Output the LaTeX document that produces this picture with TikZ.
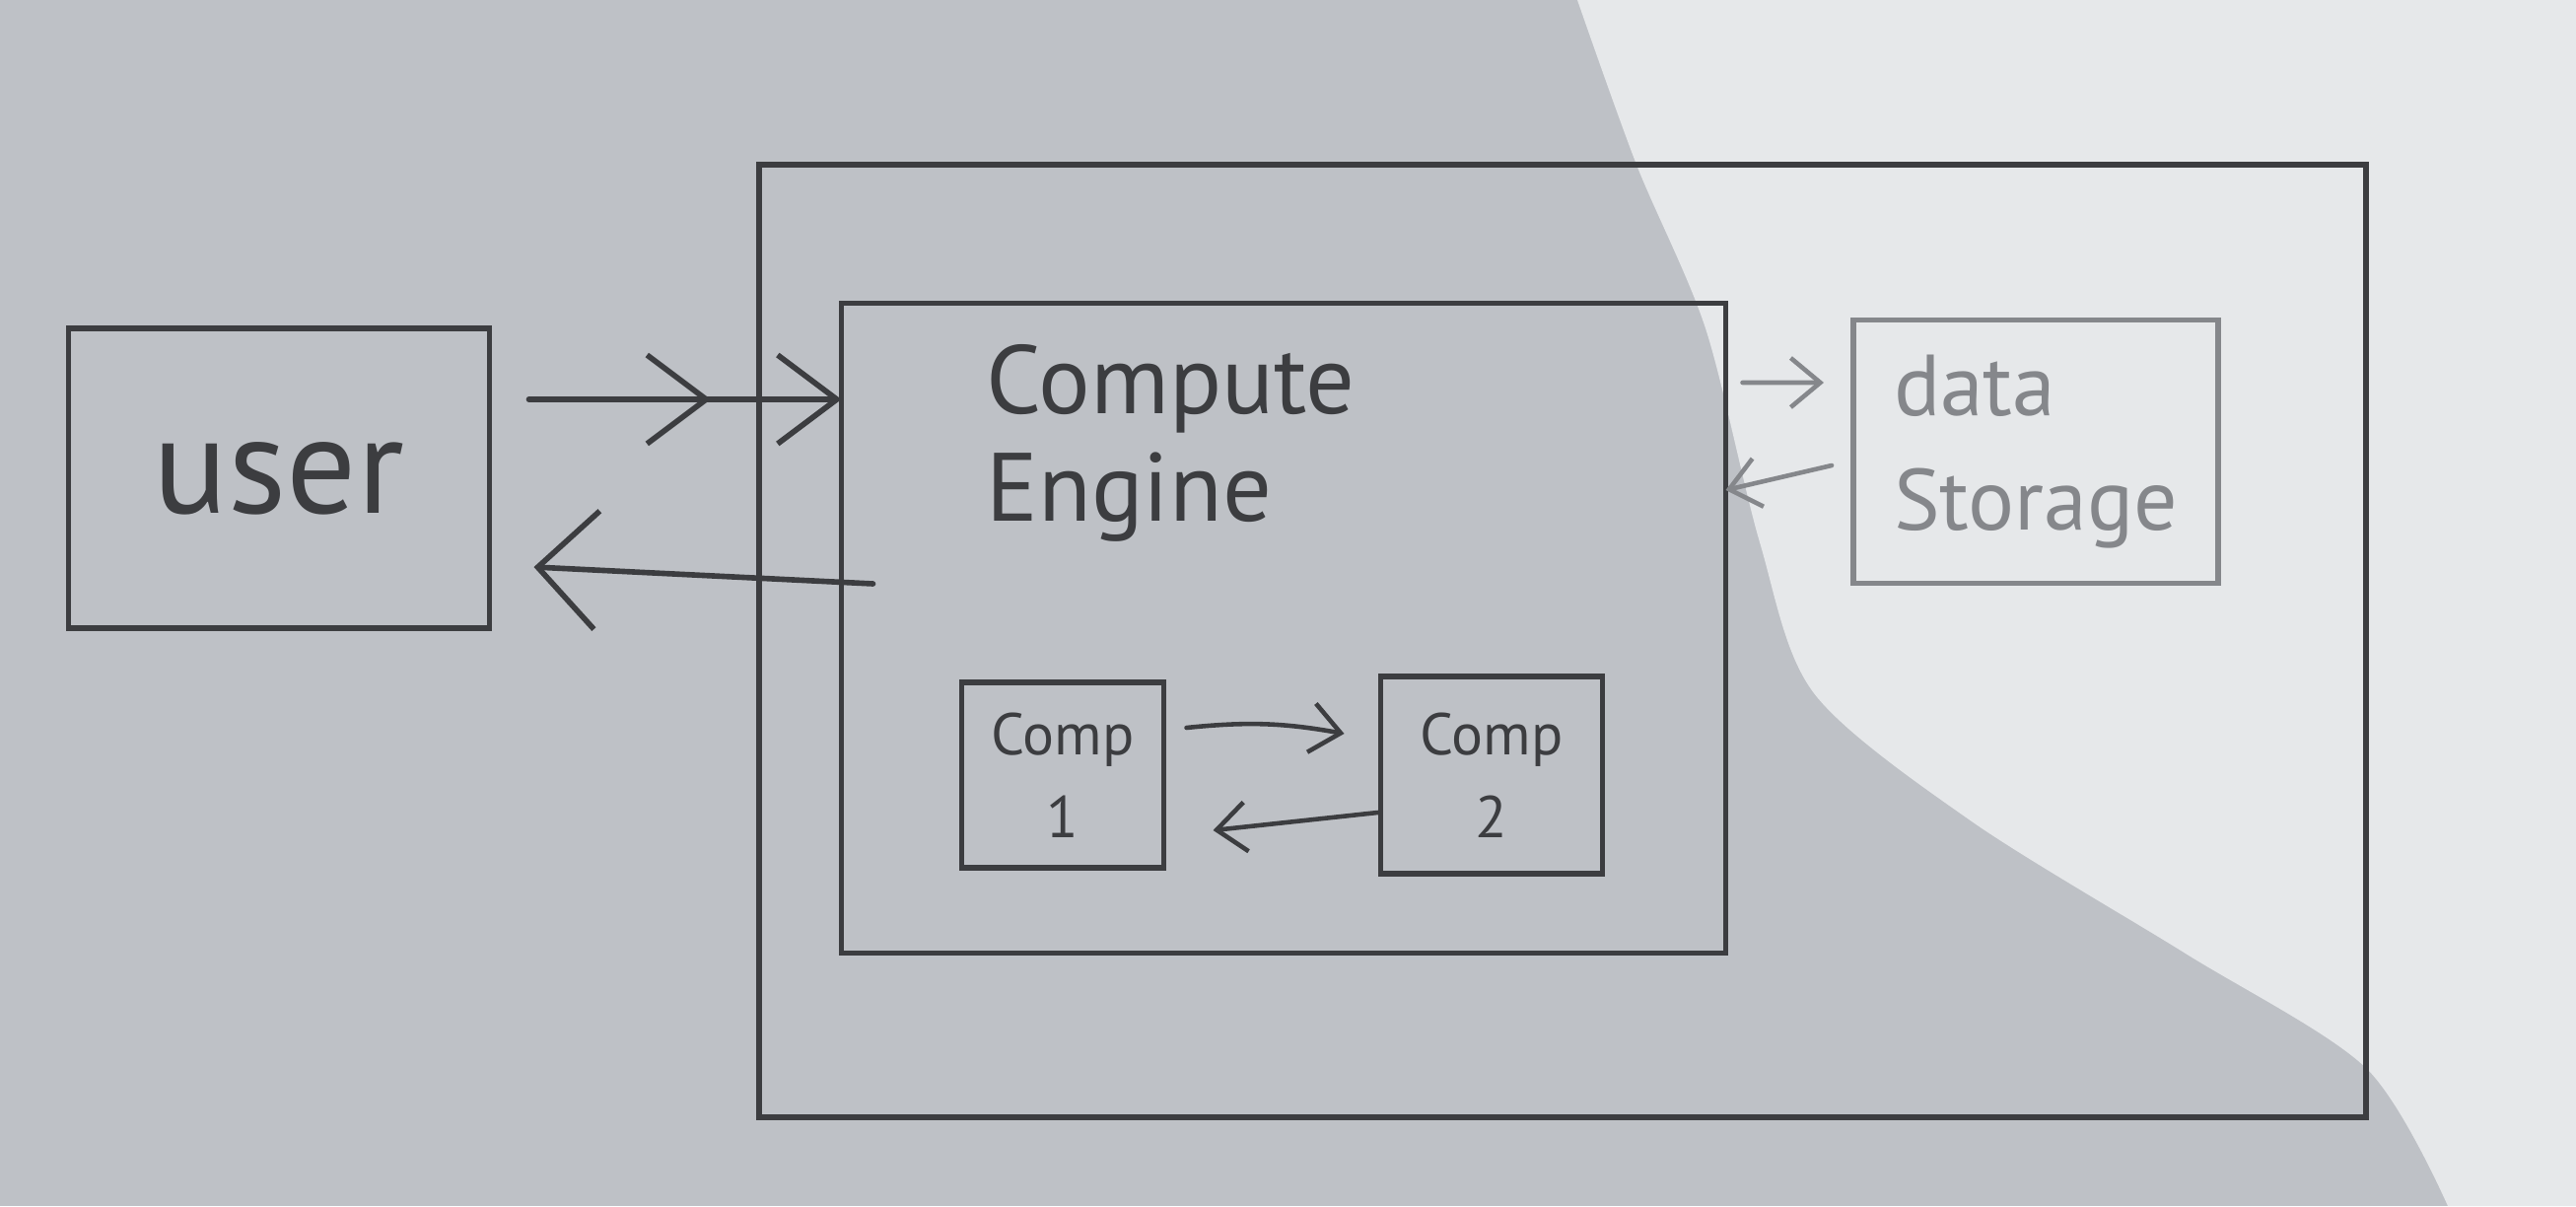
\documentclass[tikz,border=0pt]{standalone}
\usepackage{fontspec}
\setmainfont{PT Sans}
\usetikzlibrary{positioning,arrows.meta,calc}

\definecolor{paper}{HTML}{BEC1C6}
\definecolor{lit}{HTML}{E6E8EA}
\definecolor{pencil}{HTML}{3C3D40}
\definecolor{faint}{HTML}{85878B}

\begin{document}
\begin{tikzpicture}[every node/.style={inner sep=0,outer sep=0}, line cap=round,
    box/.style={draw=pencil,line width=1.5pt},
    word/.style={text=pencil,align=left},
    big/.style={draw=pencil,line width=1.6pt},
    small/.style={draw=pencil,line width=1.3pt,-{Straight Barb[length=3mm,width=5mm]}}]

    \useasboundingbox (0,0) rectangle (26.13,12.23);
    \fill[paper] (0,0) rectangle (26.13,12.23);
    \fill[lit] plot[smooth] coordinates {(16,12.23) (16.6,10.56) (17.3,8.9) (17.85,6.73) (18.4,5.2) (20,3.9) (22.17,2.56) (24,1.4) (24.83,0)} -- (26.13,0) -- (26.13,12.23) -- cycle;

    \node[box,minimum width=16.3cm,minimum height=9.66cm] (sys) at (15.85,5.73) {};
    \node[box,minimum width=4.27cm,minimum height=3.04cm,word,font=\fontsize{40}{44}\selectfont] (user) at (2.83,7.38) {user};
    \node[box,minimum width=8.97cm,minimum height=6.59cm] (engine) at (13.02,5.86) {};
    \node[word,anchor=north west,font=\fontsize{28}{31}\selectfont] (title) [below right=0.42cm and 1.47cm of engine.north west] {Compute\\Engine};
    \node[box,draw=faint,text=faint,align=left,minimum width=3.70cm,minimum height=2.67cm,font=\fontsize{25}{33}\selectfont] (store) at (20.65,7.65) {data\\Storage};

    \node[box,word,align=center,minimum width=2.05cm,minimum height=1.88cm,font=\fontsize{17}{24}\selectfont] (comp1) at (10.78,4.37) {Comp\\1};
    \node[box,word,align=center,minimum width=2.25cm,minimum height=2.0cm,font=\fontsize{17}{24}\selectfont] (comp2) [right=2.2cm of comp1] {Comp\\2};

    \coordinate (reqstart) at ([shift={(0.40,0.80)}]user.east);
    \coordinate (respend) at ([shift={(0.45,-0.90)}]user.east);
    \draw[big,-{Straight Barb[length=6mm,width=9mm,sep=6.5mm] Straight Barb[length=6mm,width=9mm]}] (reqstart) -- (reqstart -| engine.west);
    \draw[big,-{Straight Barb[length=6mm,width=12mm]}] ([shift={(0.32,0.45)}]engine.west) -- (respend);

    \draw[small,draw=faint] ([shift={(0.17,2.49)}]engine.east) -- ([shift={(-0.30,0.70)}]store.west);
    \draw[small,draw=faint] ([shift={(-0.22,-0.14)}]store.west) -- ([shift={(0,1.40)}]engine.east);

    \draw[small] ([shift={(0.23,0.48)}]comp1.east) to[bend left=8] ([shift={(-0.37,0.42)}]comp2.west);
    \draw[small] ([shift={(-0.03,-0.38)}]comp2.west) -- ([shift={(0.5,-0.56)}]comp1.east);
%    \draw (sys.north west) -- (engine.north west);

\end{tikzpicture}
\end{document}
